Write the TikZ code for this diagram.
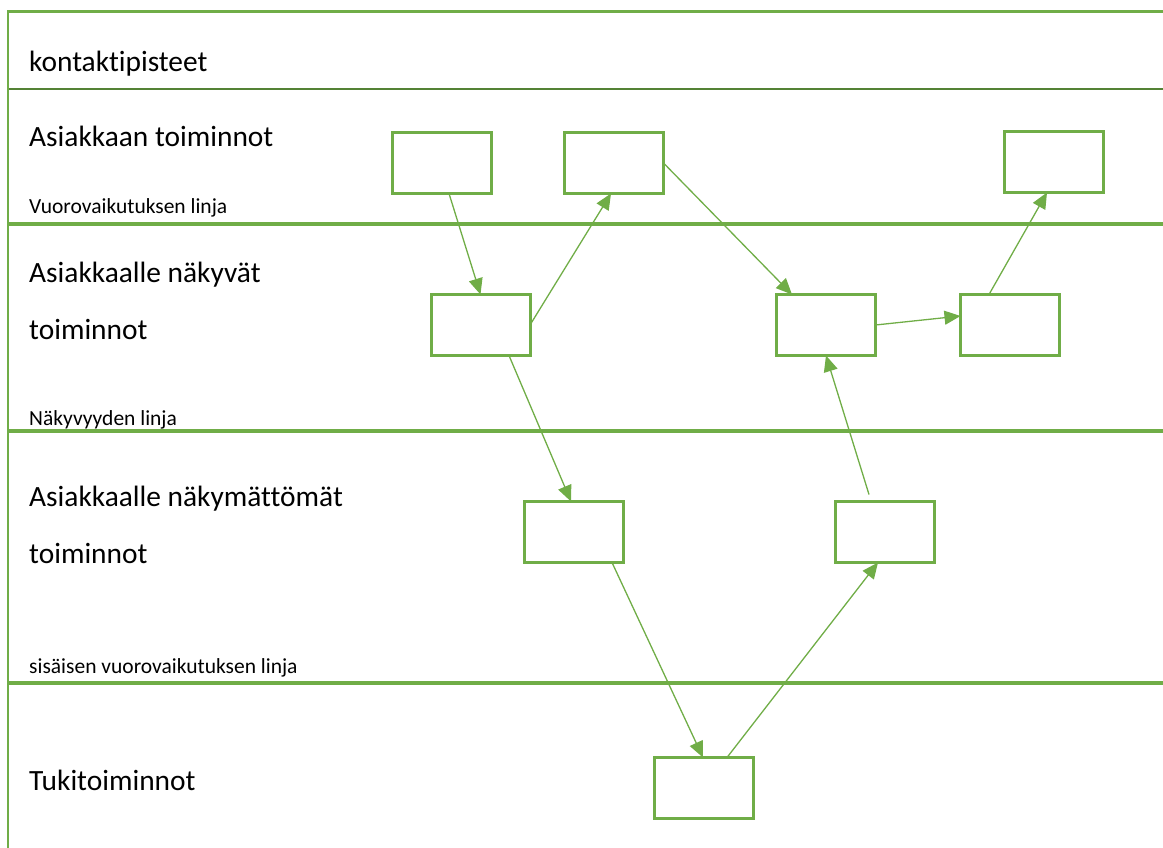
\documentclass[tikz,border=0pt]{standalone}
\usepackage{fontspec}
\setmainfont[Ligatures=NoCommon]{Carlito}
\usetikzlibrary{arrows.meta}
\definecolor{leaf}{HTML}{70AD47}
\definecolor{leafdark}{HTML}{548235}
\begin{document}
\begin{tikzpicture}[x=1pt,y=-1pt,
  stepbox/.style={draw=leaf,line width=3pt,minimum width=99pt,minimum height=61pt,inner sep=0pt,outer sep=0pt},
  flow/.style={draw=leaf,line width=1.3pt,-{Triangle[length=16pt,width=14pt]}},
  lane/.style={draw=leaf,line width=4pt},
  lanelabel/.style={anchor=base west,inner sep=0pt,font=\fontsize{29.4}{34}\selectfont},
  linelabel/.style={anchor=base west,inner sep=0pt,font=\fontsize{21.5}{25}\selectfont}]
\useasboundingbox (0,0) rectangle (1163,848);

% frame and swimlane separators
\draw[draw=leaf,line width=3pt] (8,12) -- (1163,12);
\draw[draw=leafdark,line width=1.5pt] (8,89) -- (1163,89);
\draw[lane] (8,224) -- (1163,224);
\draw[lane] (8,431) -- (1163,431);
\draw[lane] (8,683) -- (1163,683);
\draw[draw=leaf,line width=2.5pt] (8,10.5) -- (8,848);

% lane titles
\node[lanelabel] (t0) at (29,72) {kontaktipisteet};
\node[lanelabel] (t1) at (29,147) {Asiakkaan toiminnot};
\node[linelabel] (l1) at (29,214) {Vuorovaikutuksen linja};
\node[lanelabel] (t2a) at (29,282) {Asiakkaalle näkyvät};
\node[lanelabel] (t2b) at (29,339) {toiminnot};
\node[linelabel] (l2) at (29,425) {Näkyvyyden linja};
\node[lanelabel] (t3a) at (29,506) {Asiakkaalle näkymättömät};
\node[lanelabel] (t3b) at (29,563) {toiminnot};
\node[linelabel] (l3) at (29,673) {sisäisen vuorovaikutuksen linja};
\node[lanelabel] (t4) at (29,790) {Tukitoiminnot};

% process steps
\node[stepbox] (A1) at (442,163) {};
\node[stepbox] (A2) at (614,163) {};
\node[stepbox] (A3) at (1053.5,162) {};
\node[stepbox] (B1) at (480.5,325) {};
\node[stepbox] (B2) at (826,325) {};
\node[stepbox] (B3) at (1010,325) {};
\node[stepbox] (C1) at (574,532) {};
\node[stepbox] (C2) at (885,532) {};
\node[stepbox] (D1) at (704,788) {};

% flow between steps
\draw[flow] ([xshift=7pt]A1.south) -- (B1.north);
\draw[flow] (B1.east) -- ([xshift=-3pt]A2.south);
\draw[flow] (A2.east) -- ([xshift=-34pt]B2.north);
\draw[flow] (B2.east) -- ([yshift=9pt]B3.west);
\draw[flow] ([xshift=-21pt]B3.north) -- ([xshift=-6.5pt]A3.south);
\draw[flow] ([xshift=28.5pt]B1.south) -- ([xshift=-3pt]C1.north);
\draw[flow] ([xshift=-16pt,yshift=7pt]C2.north) -- (B2.south);
\draw[flow] ([xshift=38pt]C1.south) -- ([xshift=-1pt]D1.north);
\draw[flow] ([xshift=23pt]D1.north) -- ([xshift=-7pt]C2.south);
\end{tikzpicture}
\end{document}
